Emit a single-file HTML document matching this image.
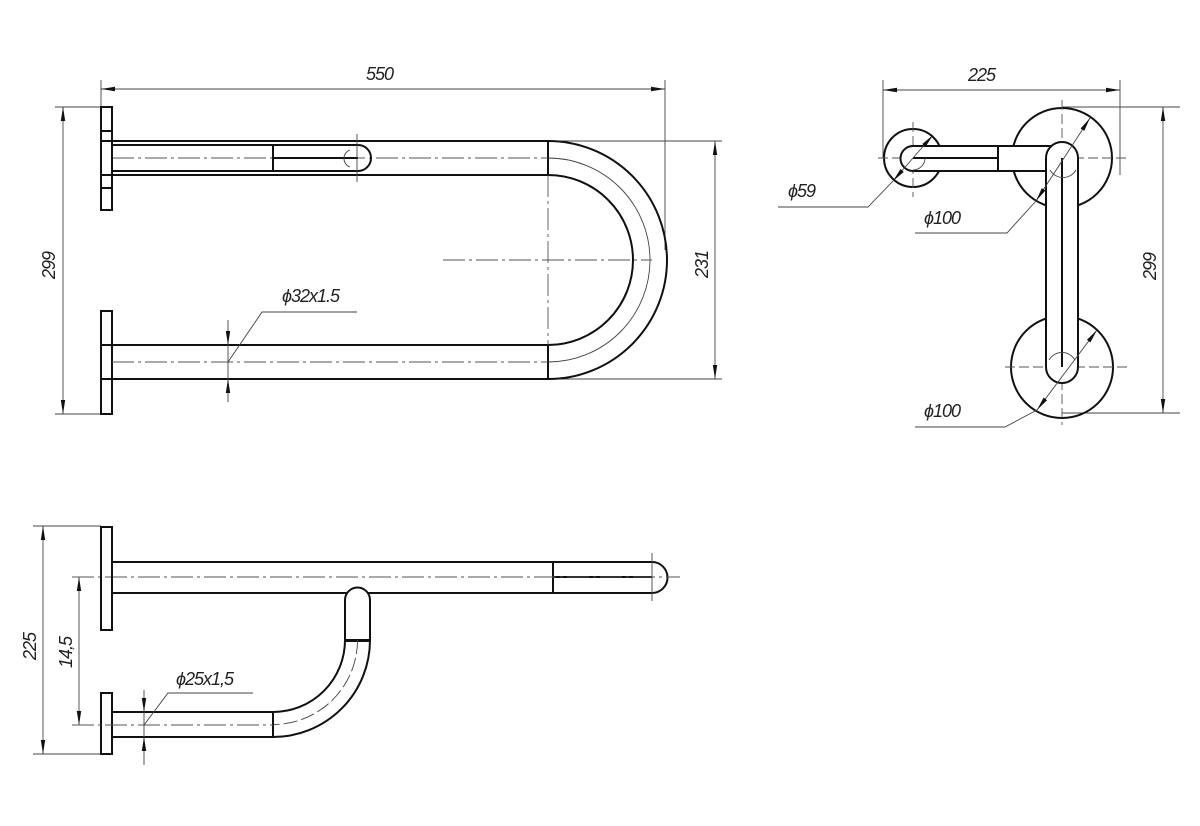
<!DOCTYPE html>
<html><head><meta charset="utf-8"><style>
html,body{margin:0;padding:0;background:#fff;}
svg{display:block;}
text{font-family:"Liberation Sans",sans-serif;font-style:italic;font-size:18px;fill:#222;letter-spacing:-1px;}
.m{stroke:#111;stroke-width:2;fill:none;}
.mf{stroke:#111;stroke-width:2;fill:#fff;}
.t{stroke:#444;stroke-width:0.9;fill:none;}
.c{stroke:#555;stroke-width:0.9;fill:none;stroke-dasharray:22 4 3 4;}
.d{stroke:#555;stroke-width:0.9;fill:none;stroke-dasharray:10 4;}
</style></head><body>
<svg width="1200" height="826" viewBox="0 0 1200 826" xmlns="http://www.w3.org/2000/svg">
<defs>
<marker id="a" viewBox="0 0 14 6" refX="14" refY="3" markerWidth="14" markerHeight="6" orient="auto-start-reverse" markerUnits="userSpaceOnUse"><path d="M0,0.8 L14,3 L0,5.2z" fill="#111"/></marker>
</defs>

<!-- ===== TOP VIEW ===== -->
<line class="t" x1="101" y1="80" x2="101" y2="107"/>
<line class="t" x1="665" y1="80" x2="665" y2="250"/>
<line class="t" x1="101" y1="89" x2="665" y2="89" marker-start="url(#a)" marker-end="url(#a)"/>
<text x="366" y="80">550</text>
<line class="t" x1="55" y1="107" x2="101" y2="107"/>
<line class="t" x1="55" y1="414" x2="101" y2="414"/>
<line class="t" x1="63" y1="107" x2="63" y2="414" marker-start="url(#a)" marker-end="url(#a)"/>
<text transform="translate(55,279) rotate(-90)">299</text>
<line class="t" x1="548" y1="141" x2="722" y2="141"/>
<line class="t" x1="548" y1="379" x2="722" y2="379"/>
<line class="t" x1="715" y1="141" x2="715" y2="379" marker-start="url(#a)" marker-end="url(#a)"/>
<text transform="translate(708,278) rotate(-90)">231</text>

<path class="m" d="M548,141 A119,119 0 0 1 548,379"/>
<path class="m" d="M548,175 A85,85 0 0 1 548,345"/>
<path class="t" d="M548,158 A102,102 0 0 1 548,362"/>
<line class="c" x1="443" y1="260" x2="652" y2="260"/>
<line class="c" x1="548" y1="175" x2="548" y2="345"/>
<line class="m" x1="548" y1="141" x2="548" y2="175"/>
<line class="m" x1="548" y1="345" x2="548" y2="379"/>
<line class="m" x1="112" y1="141" x2="548" y2="141"/>
<line class="m" x1="112" y1="175" x2="548" y2="175"/>
<line class="c" x1="112" y1="158" x2="548" y2="158"/>
<line class="m" x1="112" y1="145" x2="358" y2="145"/>
<line class="m" x1="112" y1="171" x2="358" y2="171"/>
<path class="m" d="M358,145 A13,13 0 0 1 358,171"/>
<line class="m" x1="273" y1="145" x2="273" y2="171"/>
<line class="m" x1="273" y1="158" x2="358" y2="158"/>
<line class="t" x1="357" y1="134" x2="357" y2="182"/>
<path class="t" d="M350,150 A9,9 0 0 0 350,167"/>
<rect class="m" x="101" y="107" width="11" height="103"/>
<line class="m" x1="101" y1="131" x2="112" y2="131"/>
<line class="m" x1="101" y1="188" x2="112" y2="188"/>
<line class="m" x1="101" y1="141" x2="112" y2="141"/>
<line class="m" x1="101" y1="175" x2="112" y2="175"/>
<rect class="m" x="101" y="311" width="11" height="103"/>
<line class="m" x1="101" y1="345" x2="548" y2="345"/>
<line class="m" x1="101" y1="379" x2="548" y2="379"/>
<line class="c" x1="112" y1="362" x2="548" y2="362"/>
<line class="t" x1="228" y1="320" x2="228" y2="345" marker-end="url(#a)"/>
<line class="t" x1="228" y1="402" x2="228" y2="379" marker-end="url(#a)"/>
<line class="t" x1="228" y1="345" x2="228" y2="379"/>
<polyline class="t" points="228,362 262,312 357,312"/>
<text x="282" y="302">ϕ32x1.5</text>

<!-- ===== RIGHT VIEW ===== -->
<line class="t" x1="883" y1="80" x2="883" y2="158"/>
<line class="t" x1="1120" y1="80" x2="1120" y2="175"/>
<line class="t" x1="883" y1="90" x2="1120" y2="90" marker-start="url(#a)" marker-end="url(#a)"/>
<text x="968" y="81">225</text>
<line class="t" x1="1062" y1="107" x2="1180" y2="107"/>
<line class="t" x1="1062" y1="413" x2="1180" y2="413"/>
<line class="t" x1="1163" y1="107" x2="1163" y2="413" marker-start="url(#a)" marker-end="url(#a)"/>
<text transform="translate(1156,280) rotate(-90)">299</text>

<circle class="m" cx="913" cy="158" r="29"/>
<circle class="m" cx="1062" cy="158" r="50"/>
<circle class="m" cx="1062" cy="367" r="51"/>
<line class="d" x1="913" y1="122" x2="913" y2="197"/>
<line class="d" x1="878" y1="158" x2="1128" y2="158"/>
<line class="d" x1="1062" y1="100" x2="1062" y2="425"/>
<line class="d" x1="1005" y1="367" x2="1128" y2="367"/>
<path class="mf" d="M913,146 L1062,146 L1062,171 L913,171 A12.5,12.5 0 0 1 913,146z"/>
<line class="m" x1="998" y1="146" x2="998" y2="171"/>
<line class="m" x1="913" y1="158" x2="998" y2="158"/>
<path class="t" d="M913,170 A12,12 0 0 0 925,158"/>
<path class="mf" d="M1046,158 A16,16 0 0 1 1078,158 L1078,367 A16,16 0 0 1 1046,367z"/>
<line class="m" x1="1062" y1="158" x2="1062" y2="367"/>
<path class="t" d="M1050,170 A15,15 0 0 0 1076,170"/>
<path class="t" d="M1049,360 A15,15 0 0 1 1075,360"/>
<line class="t" x1="893" y1="181" x2="933" y2="135" marker-start="url(#a)" marker-end="url(#a)"/>
<polyline class="t" points="893,181 868,207 778,207"/>
<text x="788" y="197">ϕ59</text>
<line class="t" x1="1036" y1="201" x2="1090" y2="118" marker-start="url(#a)" marker-end="url(#a)"/>
<polyline class="t" points="1036,201 1007,233 915,233"/>
<text x="924" y="224">ϕ100</text>
<line class="t" x1="1037" y1="410" x2="1097" y2="330" marker-start="url(#a)" marker-end="url(#a)"/>
<polyline class="t" points="1037,410 1005,427 915,427"/>
<text x="924" y="417">ϕ100</text>

<!-- ===== BOTTOM VIEW ===== -->
<line class="t" x1="33" y1="526" x2="101" y2="526"/>
<line class="t" x1="33" y1="754" x2="101" y2="754"/>
<line class="t" x1="43" y1="526" x2="43" y2="754" marker-start="url(#a)" marker-end="url(#a)"/>
<text transform="translate(36,660) rotate(-90)">225</text>
<line class="t" x1="79" y1="577" x2="79" y2="725" marker-start="url(#a)" marker-end="url(#a)"/>
<text transform="translate(72,668) rotate(-90)">14,5</text>

<path class="mf" d="M112,562 L652,562 A15.5,15.5 0 0 1 652,593 L112,593z"/>
<line class="m" x1="553" y1="562" x2="553" y2="593"/>
<line class="m" x1="553" y1="577" x2="652" y2="577"/>
<line class="c" x1="72" y1="577" x2="680" y2="577"/>
<line class="t" x1="652" y1="553" x2="652" y2="601"/>
<rect class="m" x="101" y="527" width="11" height="103"/>
<!-- vertical small tube & bend (over main tube) -->
<path class="mf" d="M345,641 L345,600 A12.5,12.5 0 0 1 370,600 L370,641z"/>
<line class="m" x1="345" y1="640" x2="370" y2="640"/>
<path class="m" d="M345,640 A72,72 0 0 1 273,712"/>
<path class="m" d="M370,640 A97,97 0 0 1 273,737"/>
<path class="t" d="M357.5,640 A84.5,84.5 0 0 1 273,724.5" stroke-dasharray="14 4"/>
<rect class="m" x="101" y="693" width="11" height="61"/>
<line class="m" x1="112" y1="712" x2="273" y2="712"/>
<line class="m" x1="112" y1="737" x2="273" y2="737"/>
<line class="m" x1="273" y1="712" x2="273" y2="737"/>
<line class="c" x1="72" y1="725" x2="273" y2="725"/>
<line class="t" x1="144" y1="690" x2="144" y2="712" marker-end="url(#a)"/>
<line class="t" x1="144" y1="765" x2="144" y2="737" marker-end="url(#a)"/>
<line class="t" x1="144" y1="712" x2="144" y2="737"/>
<polyline class="t" points="144,725 168,693 253,693"/>
<text x="176" y="685">ϕ25x1,5</text>
</svg>
</body></html>
